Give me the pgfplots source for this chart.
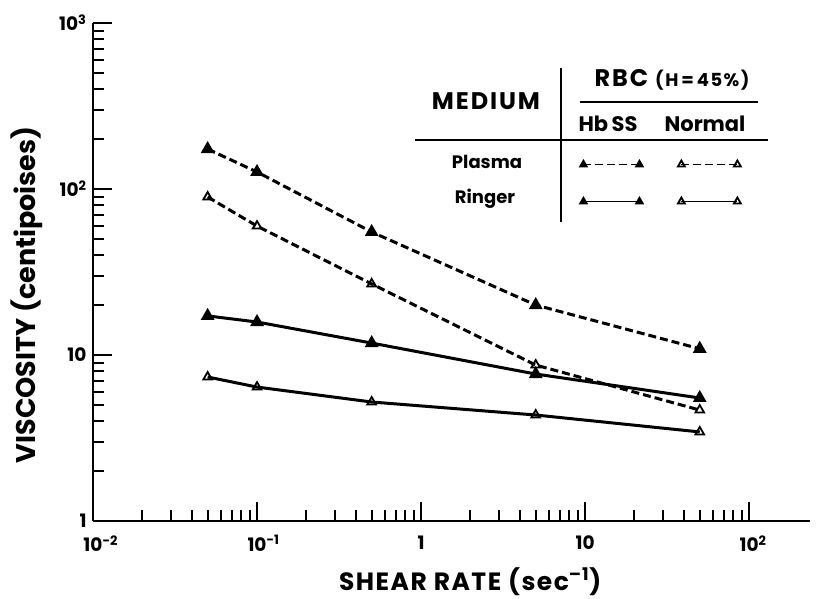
\documentclass[border=0pt]{standalone}
\usepackage{fontspec}
\setmainfont{Poppins}
\usepackage{pgfplots}
\pgfplotsset{compat=1.18}
\begin{document}
\begin{tikzpicture}
\begin{axis}[
  scale only axis, width=717pt, height=498pt,
  xmode=log, ymode=log,
  xmin=0.01, xmax=235, ymin=1, ymax=1000,
  axis lines=left, axis line style={-, line width=2.5pt},
  tick align=inside,
  major tick length=19pt, minor tick length=11pt,
  every tick/.style={black, line width=2pt},
  xtick={0.01,0.1,1,10,100},
  xticklabels={10\rlap{\textsuperscript{-2}},10\rlap{\textsuperscript{-1}},1,10,10\rlap{\textsuperscript{2}}},
  minor xtick={0.02,0.03,0.04,0.05,0.06,0.07,0.08,0.09,0.2,0.3,0.4,0.5,0.6,0.7,0.8,0.9,2,3,4,5,6,7,8,9,20,30,40,50,60,70,80,90},
  ytick={1,10,100,1000},
  yticklabels={1,10,10\textsuperscript{2},10\textsuperscript{3}},
  minor ytick={2,3,4,5,6,7,8,9,20,30,40,50,60,70,80,90,200,300,400,500,600,700,800,900},
  ticklabel style={font=\bfseries\fontsize{18.5}{22}\selectfont},
  xticklabel style={yshift=-11pt},
  yticklabel style={xshift=-3pt},
  xlabel={SHEAR RATE (sec\textsuperscript{–1})},
  ylabel={VISCOSITY (centipoises)},
  xlabel style={at={(rel axis cs:0.526,-0.1386)}, anchor=base, font=\bfseries\fontsize{25}{30}\selectfont\addfontfeature{LetterSpace=6}},
  ylabel style={at={(rel axis cs:-0.0795,0.454)}, anchor=base, font=\bfseries\fontsize{27}{32}\selectfont},
  legend columns=2,
  legend image code/.code={\draw[#1] plot coordinates {(0pt,0pt) (56pt,0pt)};},
  legend image post style={line width=1.5pt, mark size=4pt},
  legend style={draw=none, fill=none, inner sep=0pt, outer sep=0pt,
    at={(rel axis cs:0.6792,0.6807)}, anchor=west,
    column sep=17pt, row sep=31pt, nodes={inner sep=0pt}},
]
\addplot[black, line width=3pt, dash pattern=on 8pt off 4pt, mark=triangle*, mark size=5pt, mark options={solid, fill=black}]
  coordinates {(0.05,174) (0.1,126.6) (0.5,55.1) (5,20.0) (50,10.9)};
\addlegendentry{}
\addplot[black, line width=3pt, dash pattern=on 8pt off 4pt, mark=triangle, mark size=5pt, mark options={solid, fill=white, line width=1.8pt}]
  coordinates {(0.05,89.5) (0.1,59.8) (0.5,26.8) (5,8.7) (50,4.66)};
\addlegendentry{}
\addplot[black, line width=3pt, mark=triangle*, mark size=5pt, mark options={solid, fill=black}]
  coordinates {(0.05,17.2) (0.1,15.8) (0.5,11.8) (5,7.68) (50,5.51)};
\addlegendentry{}
\addplot[black, line width=3pt, mark=triangle, mark size=5pt, mark options={solid, fill=white, line width=1.8pt}]
  coordinates {(0.05,7.37) (0.1,6.41) (0.5,5.21) (5,4.35) (50,3.44)};
\addlegendentry{}
\coordinate (o) at (rel axis cs:0,0);
\end{axis}
\begin{scope}[shift={(o)}, xshift=-93pt, yshift=521pt, x=1pt, y=-1pt]
  \path (0,0) rectangle (818,598);
  \draw[line width=1.8pt] (561,68) -- (561,222);
  \draw[line width=1.8pt] (580,102) -- (758,102);
  \draw[line width=1.8pt] (415,140) -- (768,140);
  \node[font=\bfseries\fontsize{24}{30}\selectfont\addfontfeature{LetterSpace=8}] at (486,101) {MEDIUM};
  \node[font=\bfseries\fontsize{24}{28}\selectfont\addfontfeature{LetterSpace=8}] at (672,80) {RBC {\fontsize{18}{22}\selectfont(H\,=\,45\%)}};
  \node[font=\bfseries\fontsize{21}{25}\selectfont] at (608,124) {Hb\,SS};
  \node[font=\bfseries\fontsize{21}{25}\selectfont] at (705,124) {Normal};
  \node[font=\bfseries\fontsize{18}{22}\selectfont] at (487,162) {Plasma};
  \node[font=\bfseries\fontsize{18}{22}\selectfont] at (485,199) {Ringer};
\end{scope}
\end{tikzpicture}
\end{document}
